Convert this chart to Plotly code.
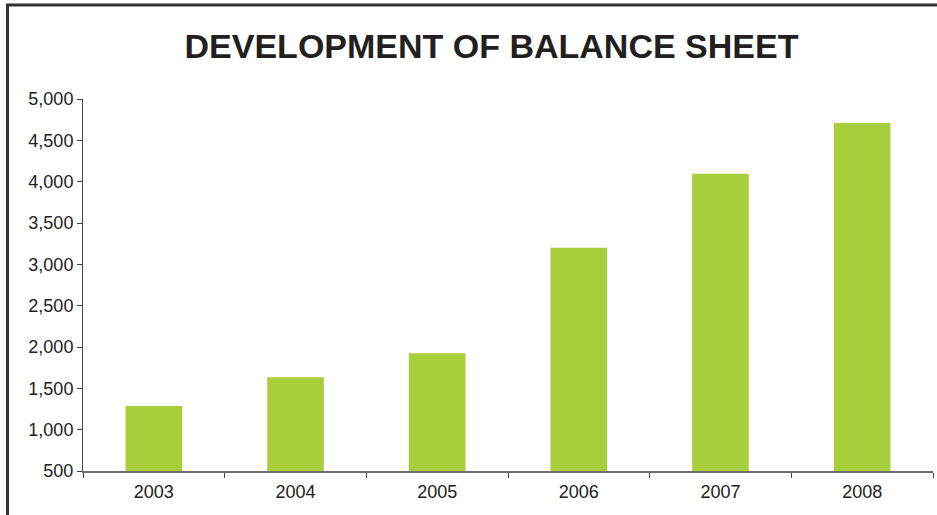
import plotly.graph_objects as go

years = ["2003", "2004", "2005", "2006", "2007", "2008"]
balance = [1285, 1635, 1925, 3200, 4095, 4710]
y_ticks = [500, 1000, 1500, 2000, 2500, 3000, 3500, 4000, 4500, 5000]

W, H = 937, 515
L, R, T, B = 83, 4, 99, 44
pw, ph = W - L - R, H - T - B

fig = go.Figure(go.Bar(x=years, y=balance, marker=dict(color="#a8ce3b", line=dict(width=0)),
                       width=0.4))

fig.update_layout(
    width=W, height=H,
    margin=dict(l=L, r=R, t=T, b=B),
    paper_bgcolor="white", plot_bgcolor="white",
    font=dict(family="Liberation Sans, Arial, sans-serif", color="#222222", size=18),
    showlegend=False,
    title=dict(text="<b>DEVELOPMENT OF BALANCE SHEET</b>",
               x=491.5 / W, xanchor="center", y=1 - 46 / H, yanchor="middle",
               font=dict(size=34, color="#231f20", family="Liberation Sans, Arial, sans-serif")),
    xaxis=dict(type="category", showgrid=False, showline=True, linecolor="#6d6d6d", linewidth=2,
               ticks="outside", ticklen=5, tickcolor="#444444", tickwidth=1,
               tickson="boundaries", tickfont=dict(size=18, color="#222222"),
               ticklabelstandoff=3, range=[-0.5, 5.5]),
    yaxis=dict(range=[500, 5000], tickvals=y_ticks, tickformat=",", showgrid=False,
               showline=True, linecolor="#444444", linewidth=1,
               ticks="outside", ticklen=5, tickcolor="#444444", tickwidth=1,
               tickfont=dict(size=18, color="#222222"), zeroline=False),
)

# Outer frame (top and left edges)
def px_x(p):
    return (p - L) / pw

def px_y(p):
    return (H - B - p) / ph

fig.add_shape(type="line", xref="paper", yref="paper",
              x0=px_x(6), x1=px_x(940), y0=px_y(5), y1=px_y(5),
              line=dict(color="#333333", width=3))
fig.add_shape(type="line", xref="paper", yref="paper",
              x0=px_x(7.5), x1=px_x(7.5), y0=px_y(5), y1=px_y(520),
              line=dict(color="#333333", width=3))

fig.write_html("out.html")
